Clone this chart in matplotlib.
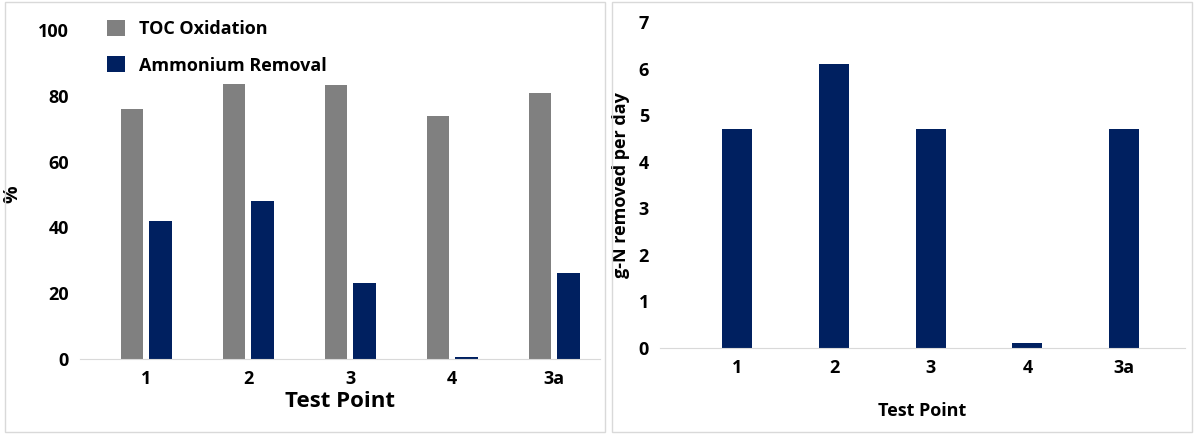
import matplotlib.pyplot as plt
import matplotlib.patches as mpatches
import numpy as np

plt.rcParams['font.family'] = ['Open Sans', 'DejaVu Sans']
plt.rcParams['font.weight'] = 'bold'
plt.rcParams['axes.labelweight'] = 'bold'

points = ['1', '2', '3', '4', '3a']
toc = [76, 83.5, 83.3, 74, 81]
ammonium = [42, 48, 23, 0.7, 26]
n_removed = [4.7, 6.1, 4.7, 0.1, 4.7]

GREY, NAVY, AX = '#808080', '#002060', '#d9d9d9'
x = np.arange(len(points))

fig = plt.figure(figsize=(11.94, 4.34), dpi=100)
for r in [(5, 605), (612, 1192)]:
    fig.patches.append(mpatches.Rectangle((r[0] / 1194, 0.005), (r[1] - r[0]) / 1194, 0.99,
                                          transform=fig.transFigure, fill=False,
                                          edgecolor='#d9d9d9', linewidth=1))

# left panel
ax1 = fig.add_axes([80 / 1194, 1 - 359 / 434, 520 / 1194, 329 / 434])
ax1.bar(x - 0.14, toc, 0.22, color=GREY, label='TOC Oxidation')
ax1.bar(x + 0.14, ammonium, 0.22, color=NAVY, label='Ammonium Removal')
ax1.set_xlim(-0.65, 4.45)
ax1.set_ylim(0, 100)
ax1.set_yticks(range(0, 101, 20))
ax1.set_xticks(x, points)
ax1.set_ylabel('%', fontsize=14)
ax1.yaxis.set_label_coords(-0.11, 0.5)
ax1.set_xlabel('Test Point', fontsize=16, labelpad=2)
ax1.legend(loc='upper left', bbox_to_anchor=(0.02, 1.08), frameon=False, fontsize=13,
           labelspacing=1.0, handlelength=1.0, handleheight=1.0)

# right panel
ax2 = fig.add_axes([660 / 1194, 1 - 348 / 434, 525 / 1194, 326 / 434])
ax2.bar(x, n_removed, 0.31, color=NAVY)
ax2.set_xlim(-0.8, 4.63)
ax2.set_ylim(0, 7)
ax2.set_yticks(range(0, 8))
ax2.set_xticks(x, points)
ax2.set_ylabel('g-N removed per day', fontsize=13, labelpad=6)
ax2.set_xlabel('Test Point', fontsize=13, labelpad=18)

for ax in (ax1, ax2):
    for s in ['top', 'right', 'left']:
        ax.spines[s].set_visible(False)
    ax.spines['bottom'].set_color(AX)
    ax.tick_params(length=0, labelsize=13, pad=8)
    for lab in ax.get_xticklabels() + ax.get_yticklabels():
        lab.set_fontweight('bold')

fig.savefig('out.png', dpi=100)
